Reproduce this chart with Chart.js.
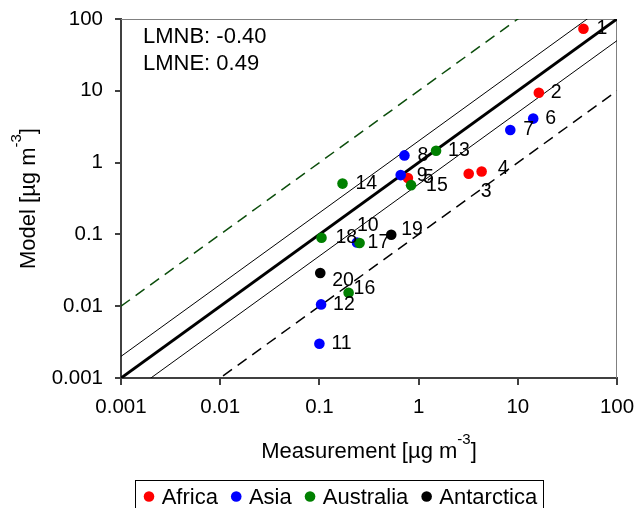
<!DOCTYPE html>
<html>
<head>
<meta charset="utf-8">
<script src="https://cdn.jsdelivr.net/npm/chart.js@4.4.1/dist/chart.umd.min.js"></script>
<style>
  html, body { margin: 0; padding: 0; background: #ffffff; }
  #wrap { width: 639px; height: 508px; position: relative; }
</style>
</head>
<body>
<div id="wrap"><canvas id="c"></canvas></div>
<script>
// ---------- data ----------
const categories = ['Africa', 'Asia', 'Australia', 'Antarctica'];

const africaIds = ['1', '2', '3', '4', '5'];
const africaX = [45.9, 16.3, 3.2, 4.32, 0.78];
const africaY = [73, 9.4, 0.70, 0.75, 0.61];

const asiaIds = ['6', '7', '8', '9', '10', '11', '12'];
const asiaX = [14.3, 8.4, 0.72, 0.66, 0.239, 0.1, 0.104];
const asiaY = [4.1, 2.84, 1.26, 0.67, 0.077, 0.0030, 0.0106];

const australiaIds = ['13', '14', '15', '16', '17', '18'];
const australiaX = [1.50, 0.171, 0.84, 0.197, 0.254, 0.105];
const australiaY = [1.46, 0.51, 0.485, 0.0154, 0.076, 0.090];

const antarcticaIds = ['19', '20'];
const antarcticaX = [0.53, 0.102];
const antarcticaY = [0.099, 0.029];

const tickValues = [0.001, 0.01, 0.1, 1, 10, 100];
const tickLabels = ['0.001', '0.01', '0.1', '1', '10', '100'];

// reference lines y = factor * x
const refFactors = [1, 2, 0.5, 10, 0.1];

const statLines = ['LMNB: -0.40', 'LMNE: 0.49'];
const xTitle = ['Measurement [\u00b5g m', '-3', ']'];
const yTitle = ['Model [\u00b5g m', '-3', ']'];

// ---------- styling ----------
const FONT = '"Liberation Sans", Arial, sans-serif';
const seriesColors = ['#ff0000', '#0000ff', '#008000', '#000000'];
const refStyles = [
  { color: '#000000', width: 3, dash: [] },
  { color: '#000000', width: 1, dash: [] },
  { color: '#000000', width: 1, dash: [] },
  { color: '#0b4d0b', width: 1.5, dash: [11, 7] },
  { color: '#000000', width: 1.5, dash: [11, 7] }
];
// label offsets relative to point (dx, dy) in px
const labelOffsets = {
  '1': [13, 0], '2': [12, 0], '3': [12, 18], '4': [16, -3], '5': [15, 0],
  '6': [12, 0], '7': [13, 0], '8': [13, 0], '9': [16, 1], '10': [0, -17],
  '11': [12, 0], '12': [12, 0], '13': [12, 0], '14': [13, 0], '15': [15, 0],
  '16': [5, -4], '17': [8, 0], '18': [14, 0], '19': [10, -5], '20': [12, 8]
};

function pts(xs, ys) { return xs.map((x, i) => ({ x: x, y: ys[i] })); }

const seriesX = [africaX, asiaX, australiaX, antarcticaX];
const seriesY = [africaY, asiaY, australiaY, antarcticaY];
const seriesIds = [africaIds, asiaIds, australiaIds, antarcticaIds];

const xMin = tickValues[0], xMax = tickValues[tickValues.length - 1];

const datasets = [];
categories.forEach((c, i) => {
  datasets.push({
    label: c,
    data: pts(seriesX[i], seriesY[i]),
    ids: seriesIds[i],
    backgroundColor: seriesColors[i],
    borderColor: seriesColors[i],
    borderWidth: 0,
    pointRadius: 5.3,
    pointHoverRadius: 5.3,
    order: 4 - i,
    isSeries: true
  });
});
refFactors.forEach((f, i) => {
  const st = refStyles[i];
  datasets.push({
    label: 'ref' + f,
    data: [{ x: xMin, y: xMin * f }, { x: xMax, y: xMax * f }],
    showLine: true,
    pointRadius: 0,
    borderColor: st.color,
    borderWidth: st.width,
    borderDash: st.dash,
    backgroundColor: 'transparent',
    order: 10,
    clip: 0
  });
});

function tickLabelFor(v) {
  for (let i = 0; i < tickValues.length; i++) {
    if (Math.abs(Math.log10(v) - Math.log10(tickValues[i])) < 1e-6) return tickLabels[i];
  }
  return '';
}

function drawSupText(ctx, parts, x, y, size, supSize, rise) {
  ctx.font = size + 'px ' + FONT;
  const w0 = ctx.measureText(parts[0]).width;
  const w2 = ctx.measureText(parts[2]).width;
  ctx.font = supSize + 'px ' + FONT;
  const w1 = ctx.measureText(parts[1]).width;
  const total = w0 + w1 + w2;
  let cx = x - total / 2;
  ctx.textAlign = 'left';
  ctx.textBaseline = 'alphabetic';
  ctx.font = size + 'px ' + FONT;
  ctx.fillText(parts[0], cx, y);
  cx += w0;
  ctx.font = supSize + 'px ' + FONT;
  ctx.fillText(parts[1], cx, y - rise);
  cx += w1;
  ctx.font = size + 'px ' + FONT;
  ctx.fillText(parts[2], cx, y);
}

const overlay = {
  id: 'overlay',
  beforeDatasetsDraw(chart) {
    const ctx = chart.ctx, a = chart.chartArea;
    ctx.save();
    ctx.strokeStyle = '#808080';
    ctx.lineWidth = 1;
    ctx.beginPath();
    ctx.moveTo(a.left, Math.round(a.top) + 0.5);
    ctx.lineTo(a.right, Math.round(a.top) + 0.5);
    ctx.moveTo(Math.round(a.right) - 0.5, a.top);
    ctx.lineTo(Math.round(a.right) - 0.5, a.bottom);
    ctx.stroke();
    ctx.restore();
  },
  afterDatasetsDraw(chart) {
    const ctx = chart.ctx;
    ctx.save();
    ctx.fillStyle = '#000000';
    ctx.font = '19.5px ' + FONT;
    ctx.textAlign = 'left';
    ctx.textBaseline = 'middle';
    chart.data.datasets.forEach((ds, di) => {
      if (!ds.isSeries) return;
      const meta = chart.getDatasetMeta(di);
      meta.data.forEach((el, i) => {
        const id = ds.ids[i];
        const off = labelOffsets[id] || [12, 0];
        ctx.fillText(id, el.x + off[0], el.y + off[1]);
      });
    });
    ctx.restore();
  },
  afterDraw(chart) {
    const ctx = chart.ctx, a = chart.chartArea;
    ctx.save();
    ctx.fillStyle = '#000000';
    ctx.font = '22px ' + FONT;
    ctx.textAlign = 'left';
    ctx.textBaseline = 'alphabetic';
    ctx.fillText(statLines[0], a.left + 22, 43);
    ctx.fillText(statLines[1], a.left + 22, 70);
    drawSupText(ctx, xTitle, (a.left + a.right) / 2, 458, 22, 15, 14);
    ctx.save();
    ctx.translate(35, (a.top + a.bottom) / 2);
    ctx.rotate(-Math.PI / 2);
    drawSupText(ctx, yTitle, 0, 0, 22, 15, 14);
    ctx.restore();
    // legend
    const lx = 135.5, ly = 480.5;
    ctx.strokeStyle = '#000000';
    ctx.lineWidth = 1;
    ctx.strokeRect(lx, ly, 408, 40);
    ctx.font = '22px ' + FONT;
    ctx.textBaseline = 'alphabetic';
    let x = 149;
    chart.data.datasets.forEach((ds) => {
      if (!ds.isSeries) return;
      ctx.fillStyle = ds.backgroundColor;
      ctx.beginPath();
      ctx.arc(x, 496.5, 5.3, 0, Math.PI * 2);
      ctx.fill();
      ctx.fillStyle = '#000000';
      const tx = x + 12.7;
      ctx.fillText(ds.label, tx, 503.5);
      x = tx + ctx.measureText(ds.label).width + 18.3;
    });
    ctx.restore();
  }
};

function zeroPad(s) { s.paddingTop = 0; s.paddingBottom = 0; s.paddingLeft = 0; s.paddingRight = 0; }

const axisCommon = {
  type: 'logarithmic',
  min: xMin,
  max: xMax,
  afterBuildTicks: (s) => { s.ticks = tickValues.map(v => ({ value: v })); },
  ticks: {
    callback: (v) => tickLabelFor(v),
    font: { family: FONT, size: 20.5 },
    color: '#000000',
    maxRotation: 0,
    autoSkip: false
  },
  grid: { drawOnChartArea: false, drawTicks: true, color: '#404040', lineWidth: 2 },
  border: { display: true, color: '#404040', width: 2 },
  title: { display: false }
};

new Chart(document.getElementById('c'), {
  type: 'scatter',
  data: { datasets: datasets },
  options: {
    responsive: true,
    maintainAspectRatio: false,
    animation: false,
    devicePixelRatio: 1,
    events: [],
    layout: { padding: { top: 19, right: 22, bottom: 0, left: 0 } },
    plugins: { legend: { display: false }, tooltip: { enabled: false } },
    scales: {
      x: Object.assign({}, axisCommon, {
        position: 'bottom',
        ticks: Object.assign({}, axisCommon.ticks, { padding: 10 }),
        grid: Object.assign({}, axisCommon.grid, { tickLength: 7 }),
        afterFit: (s) => { s.height = 130; zeroPad(s); }
      }),
      y: Object.assign({}, axisCommon, {
        position: 'left',
        ticks: Object.assign({}, axisCommon.ticks, { padding: 12 }),
        grid: Object.assign({}, axisCommon.grid, { tickLength: 6 }),
        afterFit: (s) => { s.width = 121; zeroPad(s); }
      })
    }
  },
  plugins: [overlay]
});
</script>
</body>
</html>
